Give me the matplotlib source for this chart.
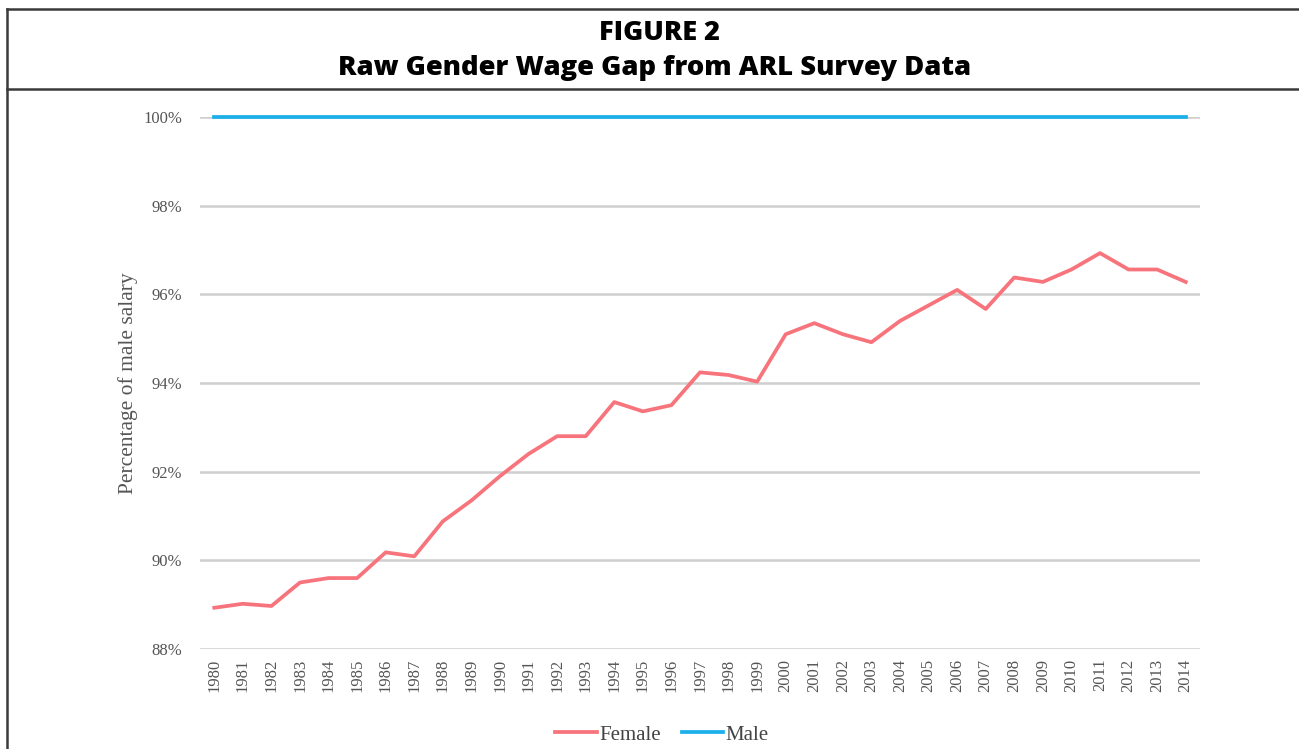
import matplotlib.pyplot as plt
from matplotlib.lines import Line2D
from matplotlib.ticker import FuncFormatter

# data
years = list(range(1980, 2015))
female = [88.93, 89.02, 88.97, 89.5, 89.6, 89.6, 90.18, 90.09, 90.88, 91.35,
          91.9, 92.4, 92.8, 92.8, 93.57, 93.36, 93.5, 94.24, 94.18, 94.03,
          95.1, 95.35, 95.1, 94.92, 95.4, 95.75, 96.1, 95.67, 96.38, 96.28,
          96.56, 96.93, 96.56, 96.56, 96.28]
male = [100.0] * len(years)

serif = ['Liberation Serif', 'DejaVu Serif']
txt_gray = '#555555'

fig = plt.figure(figsize=(12.99, 7.49), dpi=100)
ax = fig.add_axes([200 / 1299, 1 - 649 / 749, 1000 / 1299, 532 / 749])

x = list(range(len(years)))
ax.plot(x, female, color='#f8747c', lw=2.7, label='Female')
# the 100% line sits on the top edge, so don't clip it
ax.plot(x, male, color='#1cb0ea', lw=2.7, label='Male', clip_on=False)

ax.set_xlim(-0.5, len(years) - 0.5)
ax.set_ylim(88, 100)
ax.set_yticks(range(88, 101, 2))
ax.yaxis.set_major_formatter(FuncFormatter(lambda v, p: f'{v:.0f}%'))
ax.set_xticks(x)
ax.set_xticklabels([str(y) for y in years], rotation=90)

ax.grid(axis='y', color='#cfcfcf', lw=1.8)
ax.set_axisbelow(True)
for s in ax.spines.values():
    s.set_visible(False)
ax.tick_params(length=0, labelsize=12, labelcolor=txt_gray)
ax.tick_params(axis='y', pad=13)
ax.tick_params(axis='x', pad=7)
for lab in ax.get_xticklabels() + ax.get_yticklabels():
    lab.set_family(serif)

ax.set_ylabel('Percentage of male salary', family=serif, fontsize=15.5,
              color=txt_gray, labelpad=4)

leg = ax.legend(loc='upper center', bbox_to_anchor=(0.462, -0.108), ncol=2,
                frameon=False, handlelength=2.0, handletextpad=0.1,
                columnspacing=1.0, prop={'family': serif, 'size': 15})
for t in leg.get_texts():
    t.set_color('#444444')

# title block and frame
fig.text(0.508, 1 - 33 / 749, 'FIGURE 2', ha='center', va='center',
         fontsize=19.5, fontweight='heavy', family='Open Sans')
fig.text(0.504, 1 - 68 / 749, 'Raw Gender Wage Gap from ARL Survey Data',
         ha='center', va='center', fontsize=19.7, fontweight='heavy',
         family='Open Sans')

frame = dict(color='#3a3a3a', lw=1.8, transform=fig.transFigure)
fig.add_artist(Line2D([6.5 / 1299, 1], [1 - 9 / 749] * 2, **frame))
fig.add_artist(Line2D([6.5 / 1299, 1], [1 - 89 / 749] * 2, **frame))
fig.add_artist(Line2D([6.5 / 1299] * 2, [0, 1 - 9 / 749], **frame))

fig.savefig('out.png', dpi=100)
